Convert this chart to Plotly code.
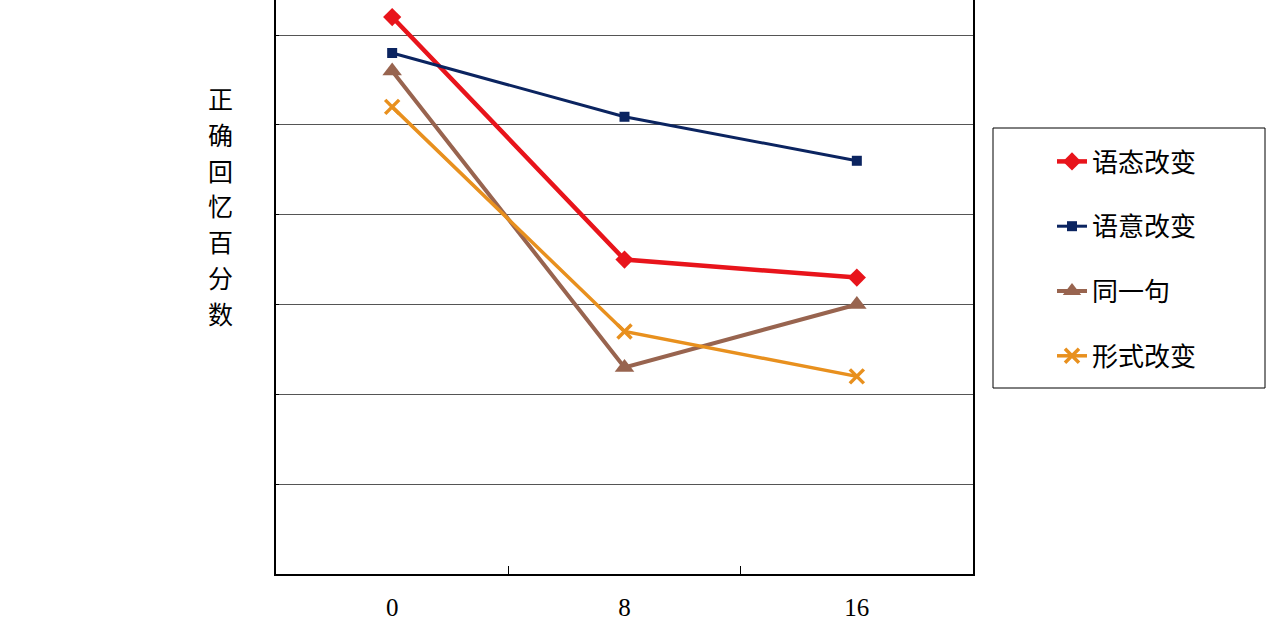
import plotly.graph_objects as go

categories = ["0", "8", "16"]
series_names = ["语态改变", "语意改变", "同一句", "形式改变"]
voice_change = [62, 35, 33]
meaning_change = [58, 50.9, 46]
same_sentence = [56, 23, 30]
form_change = [52, 27, 22]
grid_values = [0, 10, 20, 30, 40, 50, 60]
y_title = "正确回忆百分数"

styles = [
    dict(color="#E8141B", symbol="diamond", msize=14, width=4.5),
    dict(color="#0B2460", symbol="square", msize=10, width=3),
    dict(color="#98644F", symbol="triangle-up", msize=17, width=4),
    dict(color="#E8901E", symbol="x-thin-open", msize=14, width=3.5),
]
values = [voice_change, meaning_change, same_sentence, form_change]

fig = go.Figure()
for name, vals, st in zip(series_names, values, styles):
    marker = dict(symbol=st["symbol"], size=st["msize"], color=st["color"])
    if st["symbol"].endswith("open"):
        marker["line"] = dict(color=st["color"], width=3.5)
    fig.add_trace(go.Scatter(
        x=categories, y=vals, name=name, mode="lines+markers",
        line=dict(color=st["color"], width=st["width"]),
        marker=marker, legendgroup=name,
    ))

L, R, B = 276, 973, 574
W, H = 1280, 624
pw = R - L

annotations = []
for i, ch in enumerate(y_title):
    yc = 98 + i * 35.8
    annotations.append(dict(
        text=ch, xref="paper", yref="paper",
        x=(220 - L) / pw, y=1 - yc / B, xanchor="center", yanchor="middle",
        showarrow=False, borderpad=0,
        font=dict(family="Noto Sans CJK SC", size=25, color="black"),
    ))

fig.update_layout(
    width=W, height=H,
    margin=dict(l=L, r=W - R, t=0, b=H - B),
    plot_bgcolor="white", paper_bgcolor="white",
    showlegend=True,
    legend=dict(
        x=(1052 - L) / pw, y=1 - 138 / B, xanchor="left", yanchor="top",
        font=dict(family="Noto Sans CJK SC", size=26, color="black"),
        bgcolor="rgba(0,0,0,0)", borderwidth=0,
        traceorder="grouped", tracegroupgap=28, itemwidth=30,
    ),
    xaxis=dict(
        type="category", showline=True, linecolor="black", linewidth=2,
        ticks="inside", tickson="boundaries", ticklen=8, tickcolor="black", tickwidth=1,
        showgrid=False, ticklabelstandoff=10,
        tickfont=dict(family="Liberation Serif", size=25, color="black"),
        range=[-0.5, 2.5],
    ),
    yaxis=dict(
        range=[0, 574 / 89.83 * 10], tickvals=grid_values, showticklabels=False,
        showgrid=True, gridcolor="#555555", gridwidth=1,
        showline=True, linecolor="black", linewidth=2, mirror=True,
        ticks="inside", ticklen=3, tickcolor="black", zeroline=False,
    ),
    annotations=annotations,
    shapes=[dict(
        type="rect", xref="paper", yref="paper",
        x0=(993 - L) / pw, x1=(1265 - L) / pw, y0=1 - 388 / B, y1=1 - 128 / B,
        line=dict(color="black", width=1), fillcolor="rgba(0,0,0,0)",
    )],
)

fig.write_html("out.html", config={"displayModeBar": False},
               post_script="document.body.style.margin='0';")
